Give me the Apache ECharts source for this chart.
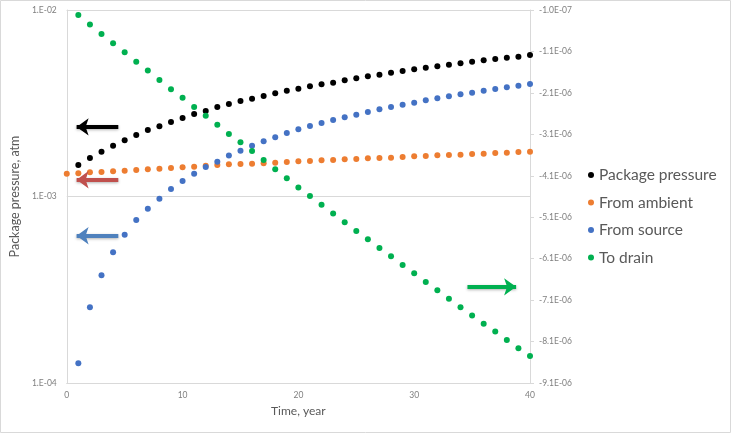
<!DOCTYPE html>
<html>
<head>
<meta charset="utf-8">
<script src="https://cdn.jsdelivr.net/npm/echarts@6/dist/echarts.min.js"></script>
<style>
  html, body { margin: 0; padding: 0; background: #fff; }
  #chart { width: 734px; height: 434px; }
</style>
</head>
<body>
<div id="chart"></div>
<script>
// time axis, years
const years = [1, 2, 3, 4, 5, 6, 7, 8, 9, 10, 11, 12, 13, 14, 15, 16, 17, 18, 19, 20,
  21, 22, 23, 24, 25, 26, 27, 28, 29, 30, 31, 32, 33, 34, 35, 36, 37, 38, 39, 40]
const ambientYears = [0].concat(years)

// left axis (log), atm
const packagePressure = [1.475e-3, 1.608e-3, 1.739e-3, 1.873e-3, 2.001e-3, 2.137e-3, 2.273e-3, 2.379e-3, 2.509e-3, 2.636e-3,
  2.769e-3, 2.873e-3, 3.019e-3, 3.133e-3, 3.251e-3, 3.345e-3, 3.458e-3, 3.575e-3, 3.692e-3, 3.784e-3,
  3.898e-3, 3.995e-3, 4.075e-3, 4.198e-3, 4.303e-3, 4.410e-3, 4.498e-3, 4.610e-3, 4.708e-3, 4.808e-3,
  4.904e-3, 4.990e-3, 5.089e-3, 5.178e-3, 5.281e-3, 5.374e-3, 5.461e-3, 5.549e-3, 5.619e-3, 5.738e-3]
const fromAmbient = [1.325e-3, 1.331e-3, 1.348e-3, 1.353e-3, 1.365e-3, 1.375e-3, 1.387e-3, 1.399e-3, 1.409e-3, 1.421e-3,
  1.434e-3, 1.444e-3, 1.462e-3, 1.475e-3, 1.488e-3, 1.493e-3, 1.499e-3, 1.507e-3, 1.518e-3, 1.531e-3,
  1.544e-3, 1.550e-3, 1.563e-3, 1.569e-3, 1.583e-3, 1.589e-3, 1.602e-3, 1.608e-3, 1.614e-3, 1.628e-3,
  1.642e-3, 1.648e-3, 1.662e-3, 1.669e-3, 1.675e-3, 1.690e-3, 1.696e-3, 1.711e-3, 1.717e-3, 1.732e-3, 1.739e-3]
const fromSource = [1.275e-4, 2.545e-4, 3.780e-4, 5.020e-4, 6.240e-4, 7.482e-4, 8.602e-4, 9.731e-4, 1.097e-3, 1.210e-3,
  1.325e-3, 1.439e-3, 1.537e-3, 1.659e-3, 1.760e-3, 1.873e-3, 1.977e-3, 2.077e-3, 2.191e-3, 2.293e-3,
  2.388e-3, 2.478e-3, 2.572e-3, 2.658e-3, 2.745e-3, 2.838e-3, 2.934e-3, 3.019e-3, 3.106e-3, 3.184e-3,
  3.280e-3, 3.362e-3, 3.446e-3, 3.532e-3, 3.602e-3, 3.692e-3, 3.770e-3, 3.850e-3, 3.927e-3, 4.010e-3]
// right axis (linear)
const toDrain = [-0.22e-6, -0.45e-6, -0.68e-6, -0.90e-6, -1.12e-6, -1.35e-6, -1.56e-6, -1.79e-6, -2.01e-6, -2.22e-6,
  -2.44e-6, -2.65e-6, -2.87e-6, -3.09e-6, -3.29e-6, -3.50e-6, -3.72e-6, -3.94e-6, -4.16e-6, -4.38e-6,
  -4.59e-6, -4.80e-6, -5.01e-6, -5.22e-6, -5.43e-6, -5.63e-6, -5.84e-6, -6.04e-6, -6.25e-6, -6.45e-6,
  -6.66e-6, -6.86e-6, -7.07e-6, -7.27e-6, -7.47e-6, -7.67e-6, -7.86e-6, -8.06e-6, -8.26e-6, -8.45e-6]

const rightTicks = [-9.1e-6, -8.1e-6, -7.1e-6, -6.1e-6, -5.1e-6, -4.1e-6, -3.1e-6, -2.1e-6, -1.1e-6, -1.0e-7]

const seriesNames = ['Package pressure', 'From ambient', 'From source', 'To drain']
const colors = ['#000000', '#ED7D31', '#4472C4', '#00B050']

function pad2(n) {
  return (n < 10 ? '0' : '') + n
}
function leftFmt(v) {
  return '1.E-' + pad2(Math.round(-Math.log10(v)))
}
function rightFmt(v) {
  const e = Math.floor(Math.log10(Math.abs(v)) + 1e-9)
  const m = v / Math.pow(10, e)
  return m.toFixed(1) + 'E-' + pad2(-e)
}
function pairs(xs, ys) {
  return ys.map((y, i) => [xs[i], y])
}
// annotation arrow in data space
function arrow(color, x0, x1, y) {
  return {
    silent: true,
    symbol: ['none', 'arrow'],
    symbolSize: [13, 12],
    label: { show: false },
    lineStyle: { color: color, width: 4, type: 'solid', shadowColor: 'rgba(0,0,0,0.3)', shadowBlur: 3, shadowOffsetY: 1 },
    itemStyle: { color: color },
    animation: false,
    data: [[{ coord: [x0, y] }, { coord: [x1, y] }]]
  }
}

const font = 'Lato, "Liberation Sans", sans-serif'
const chart = echarts.init(document.getElementById('chart'))
chart.setOption({
  animation: false,
  textStyle: { fontFamily: font },
  color: colors,
  graphic: [{
    type: 'rect',
    shape: { x: 0.5, y: 0.5, width: 730, height: 432 },
    style: { fill: 'none', stroke: '#d9d9d9', lineWidth: 1 },
    silent: true
  }],
  grid: { left: 65, right: 204, top: 10, bottom: 51 },
  legend: {
    orient: 'vertical',
    left: 583,
    top: 162,
    itemWidth: 6,
    itemHeight: 6,
    itemGap: 11.5,
    icon: 'circle',
    data: seriesNames,
    textStyle: { fontSize: 15.5, color: '#595959', fontFamily: font }
  },
  xAxis: {
    type: 'value',
    min: 0,
    max: 40,
    interval: 10,
    name: 'Time, year',
    nameLocation: 'middle',
    nameGap: 22,
    nameTextStyle: { fontSize: 12, color: '#595959' },
    axisLine: { show: true, lineStyle: { color: '#d9d9d9' } },
    axisTick: { show: false },
    axisLabel: { fontSize: 8.5, color: '#7f7f7f', margin: 8 },
    splitLine: { show: false }
  },
  yAxis: [
    {
      type: 'log',
      logBase: 10,
      min: 1e-4,
      max: 1e-2,
      name: 'Package pressure, atm',
      nameLocation: 'middle',
      nameGap: 40,
      nameTextStyle: { fontSize: 12.5, color: '#595959' },
      axisLine: { show: true, lineStyle: { color: '#d9d9d9' } },
      axisTick: { show: false },
      axisLabel: { fontSize: 8.5, color: '#7f7f7f', margin: 10, formatter: leftFmt },
      splitLine: { show: true, lineStyle: { color: '#d9d9d9' } },
      minorTick: { show: false }
    },
    {
      type: 'value',
      position: 'right',
      min: -9.1e-6,
      max: -1.0e-7,
      axisLine: { show: true, lineStyle: { color: '#d9d9d9' } },
      axisTick: { show: true, length: 4, lineStyle: { color: '#d9d9d9' }, customValues: rightTicks },
      axisLabel: { fontSize: 8.5, color: '#7f7f7f', margin: 9, formatter: rightFmt, customValues: rightTicks },
      splitLine: { show: false }
    }
  ],
  series: [
    {
      name: seriesNames[0],
      type: 'scatter',
      yAxisIndex: 0,
      symbolSize: 6,
      itemStyle: { opacity: 1 },
      data: pairs(years, packagePressure),
      markLine: arrow('#000000', 4.45, 0.85, 2.36e-3)
    },
    {
      name: seriesNames[1],
      type: 'scatter',
      yAxisIndex: 0,
      symbolSize: 6,
      itemStyle: { opacity: 1 },
      data: pairs(ambientYears, fromAmbient),
      markLine: arrow('#C0504D', 4.45, 0.85, 1.23e-3)
    },
    {
      name: seriesNames[2],
      type: 'scatter',
      yAxisIndex: 0,
      symbolSize: 6,
      itemStyle: { opacity: 1 },
      data: pairs(years, fromSource),
      markLine: arrow('#4F81BD', 4.45, 0.85, 6.16e-4)
    },
    {
      name: seriesNames[3],
      type: 'scatter',
      yAxisIndex: 1,
      symbolSize: 6,
      itemStyle: { opacity: 1 },
      data: pairs(years, toDrain),
      markLine: arrow('#00B050', 34.6, 38.8, -6.78e-6)
    }
  ]
})
</script>
</body>
</html>
